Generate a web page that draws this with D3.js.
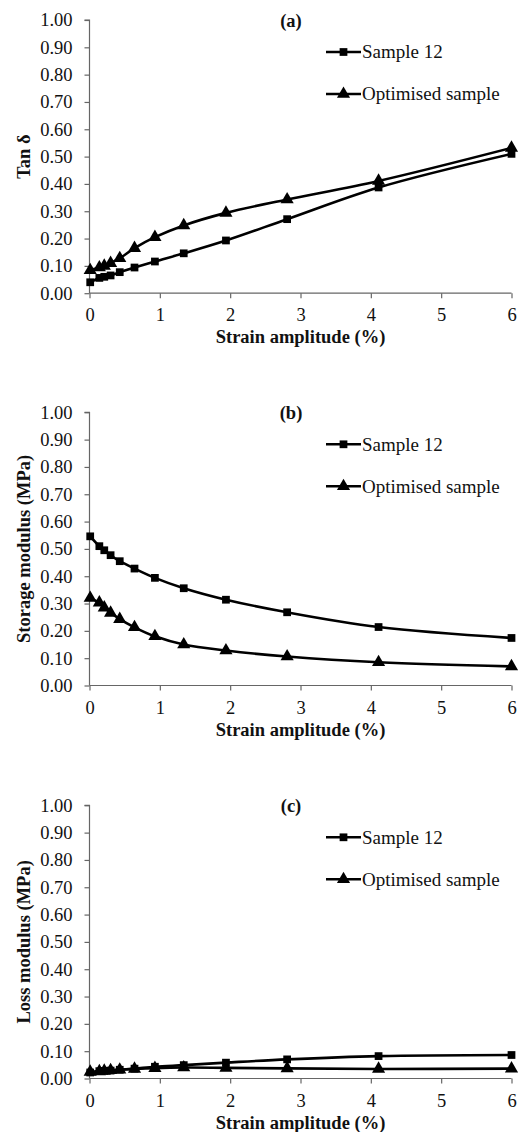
<!DOCTYPE html>
<html><head><meta charset="utf-8">
<script src="https://cdn.jsdelivr.net/npm/d3@7"></script>
<style>body{margin:0;background:#fff}svg{display:block}
svg text{font-family:"Liberation Serif","Times New Roman","DejaVu Serif",serif !important;}</style>
</head><body>
<svg id="chart" width="527" height="1132"></svg>
<script>
const strain = [0.01, 0.14, 0.21, 0.30, 0.43, 0.64, 0.93, 1.34, 1.94, 2.81, 4.11, 6.0];
const seriesNames = ["Sample 12", "Optimised sample"];
const tanSample12 = [0.040, 0.056, 0.060, 0.065, 0.077, 0.094, 0.116, 0.146, 0.193, 0.271, 0.387, 0.510];
const tanOptimised = [0.084, 0.094, 0.100, 0.110, 0.128, 0.165, 0.205, 0.248, 0.294, 0.343, 0.411, 0.532];
const storageSample12 = [0.546, 0.510, 0.495, 0.477, 0.455, 0.428, 0.394, 0.356, 0.314, 0.268, 0.214, 0.174];
const storageOptimised = [0.320, 0.303, 0.285, 0.266, 0.243, 0.213, 0.180, 0.150, 0.128, 0.106, 0.085, 0.070];
const lossSample12 = [0.022, 0.027, 0.028, 0.029, 0.032, 0.036, 0.043, 0.049, 0.058, 0.070, 0.082, 0.086];
const lossOptimised = [0.024, 0.026, 0.028, 0.030, 0.032, 0.035, 0.038, 0.040, 0.039, 0.037, 0.035, 0.036];
const yTicks = [0, 0.1, 0.2, 0.3, 0.4, 0.5, 0.6, 0.7, 0.8, 0.9, 1.0];
const xTicks = [0, 1, 2, 3, 4, 5, 6];
const panelLabels = ["(a)", "(b)", "(c)"];
const yTitles = ["Tan δ", "Storage modulus (MPa)", "Loss modulus (MPa)"];
const xTitle = "Strain amplitude (%)";

const panels = [
  {label: panelLabels[0], ytitle: yTitles[0], s: [tanSample12, tanOptimised], top: 20},
  {label: panelLabels[1], ytitle: yTitles[1], s: [storageSample12, storageOptimised], top: 412.3},
  {label: panelLabels[2], ytitle: yTitles[2], s: [lossSample12, lossOptimised], top: 805.3}
];

const svg = d3.select("#chart");
const font = "Liberation Serif, Times New Roman, DejaVu Serif, serif";
const axisColor = "#666";
const x = d3.scaleLinear().domain([0, 6]).range([89.5, 511.5]);
const ph = 273.2;

const tri = d3.symbol().type(d3.symbolTriangle).size(75);
const sq = d3.symbol().type(d3.symbolSquare).size(60);

panels.forEach(p => {
  const y = d3.scaleLinear().domain([0, 1]).range([p.top + ph, p.top]);
  const g = svg.append("g");

  const ya = g.append("g").attr("transform", `translate(${x(0)},0)`)
    .call(d3.axisLeft(y).tickValues(yTicks).tickFormat(d3.format(".2f")).tickSize(5).tickPadding(12));
  ya.attr("font-family", null);
  ya.select(".domain").attr("stroke", axisColor).attr("stroke-width", 1.2).attr("d", `M-5,${y(1)}H0V${y(0)}`);
  ya.selectAll(".tick line").attr("stroke", axisColor).attr("stroke-width", 1.2);
  ya.selectAll(".tick text").style("font-family", font).attr("font-size", 18.5).attr("fill", "#111");

  const xa = g.append("g").attr("transform", `translate(0,${y(0)})`)
    .call(d3.axisBottom(x).tickValues(xTicks).tickFormat(d3.format("d")).tickSize(5).tickPadding(10));
  xa.attr("font-family", null);
  xa.select(".domain").attr("stroke", axisColor).attr("stroke-width", 1.2).attr("d", `M${x(0)},0H${x(6)}`);
  xa.selectAll(".tick line").attr("stroke", axisColor).attr("stroke-width", 1.2);
  xa.selectAll(".tick text").style("font-family", font).attr("font-size", 18.5).attr("fill", "#111");

  g.append("text").attr("x", (x(0) + x(6)) / 2).attr("y", y(0) + 50)
    .attr("text-anchor", "middle").style("font-family", font).attr("font-weight", "bold")
    .attr("font-size", 18.5).attr("fill", "#111").text(xTitle);
  g.append("text").attr("transform", `translate(30,${(y(0) + y(1)) / 2}) rotate(-90)`)
    .attr("text-anchor", "middle").style("font-family", font).attr("font-weight", "bold")
    .attr("font-size", 18.5).attr("fill", "#111").text(p.ytitle);
  g.append("text").attr("x", 291).attr("y", p.top + 7)
    .attr("text-anchor", "middle").style("font-family", font).attr("font-weight", "bold")
    .attr("font-size", 18.5).attr("fill", "#111").text(p.label);

  const line = d3.line().x((d, i) => x(strain[i])).y(d => y(d)).curve(d3.curveCatmullRom.alpha(0.5));
  p.s.forEach((vals, si) => {
    g.append("path").datum(vals).attr("d", line).attr("fill", "none")
      .attr("stroke", "#000").attr("stroke-width", 2.6);
    g.selectAll(null).data(vals).enter().append("path")
      .attr("transform", (d, i) => `translate(${x(strain[i])},${y(d)})`)
      .attr("d", si === 0 ? sq : tri).attr("fill", "#000");
  });

  seriesNames.forEach((name, si) => {
    const ly = p.top + (si === 0 ? 32 : 74);
    g.append("line").attr("x1", 326).attr("x2", 361).attr("y1", ly).attr("y2", ly)
      .attr("stroke", "#000").attr("stroke-width", 2.6);
    g.append("path").attr("transform", `translate(343.5,${ly})`).attr("d", si === 0 ? sq : tri).attr("fill", "#000");
    g.append("text").attr("x", 362).attr("y", ly).attr("dy", "0.34em")
      .style("font-family", font).attr("font-size", 19).attr("fill", "#111").text(name);
  });
});
</script>
</body></html>
